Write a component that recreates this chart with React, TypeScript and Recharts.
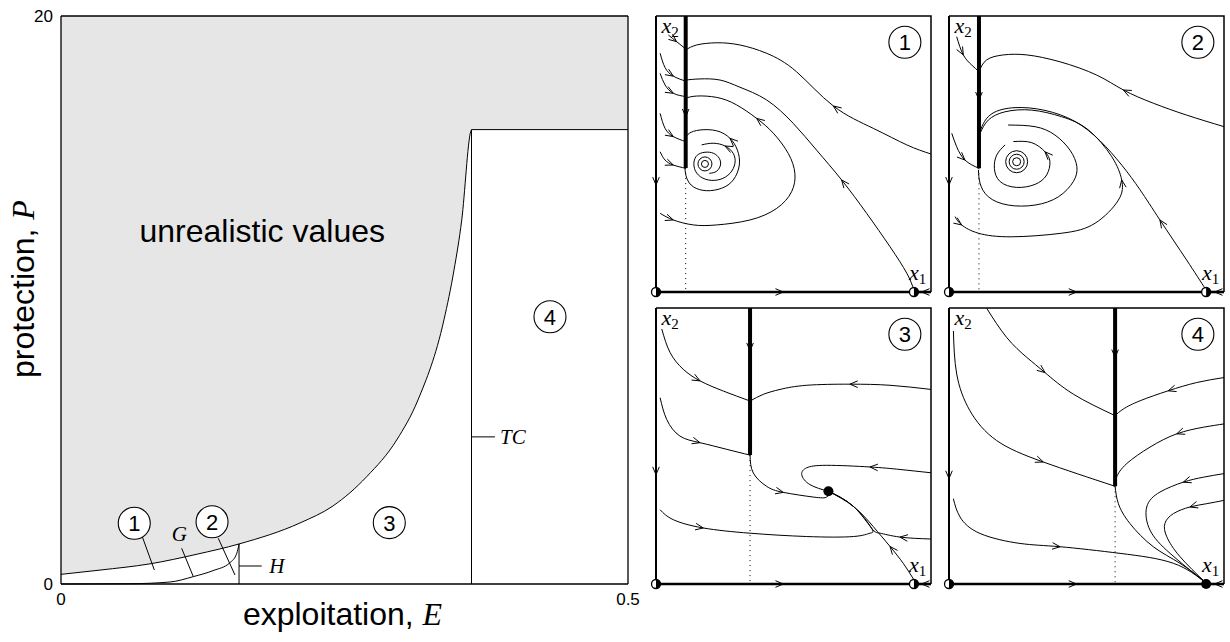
import React from "react";
import {
  Area,
  CartesianGrid,
  ComposedChart,
  Line,
  ReferenceDot,
  ReferenceLine,
  XAxis,
  YAxis,
} from "recharts";

type Pt = [number, number];
type Curve = { pts: Pt[]; arrows?: number[] };

const SANS = '"Liberation Sans", Arial, Helvetica, sans-serif';
const SERIF = '"Liberation Serif", "DejaVu Serif", serif';

// ---- left diagram: exploitation E against protection P ----
const boundaryE = [0, 0.0344, 0.0785, 0.12, 0.157, 0.2108, 0.2399, 0.2696, 0.296, 0.3148, 0.3377, 0.3466, 0.3534, 0.3613, 0.362, 0.5];
const boundaryP = [0.34, 0.49, 0.71, 1.05, 1.41, 2.15, 2.75, 3.78, 5.07, 6.48, 9.3, 11.06, 12.82, 15.93, 16, 16];
const gCurveE = [0, 0.0608, 0.0961, 0.1167, 0.134, 0.149, 0.155, 0.157];
const gCurveP = [0, 0.01, 0.07, 0.26, 0.47, 0.75, 1.08, 1.41];
const hopfE = 0.157;
const hopfP = 1.41;
const tcE = 0.362;
const tcP = 16;
const regionIds = ["1", "2", "3", "4"];
const regionE = [0.0646, 0.1332, 0.2895, 0.4312];
const regionP = [2.14, 2.19, 2.16, 9.41];

// ---- phase portraits, x1 horizontal / x2 vertical, both 0..100 ----
// panel 1
const p1Slide = { u: 10.8, end: 44.9, arrow: 63.5 };
const p1Top: Pt[] = [[100, 50.0], [91.2, 53.3], [79.0, 59.3], [64.5, 67.4], [51.1, 79.8], [40.2, 86.5], [30.5, 89.5], [22.1, 90.3], [14.8, 89.5], [10.8, 87.7]];
const p1Mid: Pt[] = [[93.8, 0.7], [91.2, 6.8], [85.1, 16.4], [76.6, 28.5], [67.5, 40.6], [58.4, 51.4], [49.9, 61.1], [40.2, 69.6], [30.5, 74.2], [23.3, 76.8], [16.0, 77.2], [10.8, 76.8]];
const p1Outer: Pt[] = [[1.5, 28.5], [6.3, 26.1], [13.6, 24.3], [22.1, 24.3], [34.2, 26.1], [43.9, 30.3], [49.3, 36.3], [50.5, 43.0], [48.1, 50.2], [42.7, 57.5], [36.6, 62.9], [29.3, 67.8], [22.1, 70.5], [14.8, 71.0], [10.7, 70.2]];
const p1Loop: Pt[] = [[10.5, 44.8], [11.2, 41.2], [13.6, 38.1], [18.4, 36.7], [23.9, 37.6], [28.1, 40.6], [30.3, 46.0], [29.6, 51.4], [26.9, 55.7], [22.1, 58.4], [16.0, 58.7], [12.1, 57.5], [10.8, 55.7]];
const p1Spiral: Pt[] = [[19.4, 43.0], [22.1, 43.8], [23.5, 46.4], [22.6, 49.0], [20.2, 50.5], [17.0, 50.5], [14.5, 49.0], [13.8, 45.7], [15.4, 42.4], [19.0, 40.6], [23.3, 40.8], [26.9, 43.0], [28.7, 46.6], [28.1, 50.2], [25.1, 52.9], [20.8, 53.9], [16.6, 53.3]];
const p1Feed: Pt[][] = [
  [[4.5, 93.1], [7.5, 90.7], [10.8, 88.1]],
  [[1.5, 86.5], [3.3, 81.3], [6.3, 78.2], [10.8, 76.4]],
  [[1.5, 79.2], [3.3, 75.0], [6.3, 72.0], [10.8, 70.8]],
  [[1.5, 64.7], [3.3, 59.3], [6.3, 56.3], [10.8, 54.5]],
  [[1.5, 50.8], [3.3, 47.8], [6.3, 46.0], [10.8, 44.8]],
];
const p1Focus: Pt = [17.8, 46.4];

// panel 2
const p2Slide = { u: 10.9, end: 44.8, arrow: 69.6 };
const p2FeedTop: Pt[] = [[2.8, 92.5], [5.2, 85.9], [8.3, 82.2], [10.9, 79.8]];
const p2Top: Pt[] = [[100, 59.9], [86.4, 64.1], [74.3, 68.4], [63.4, 73.2], [53.7, 78.6], [40.4, 83.4], [28.3, 85.9], [19.8, 85.9], [13.7, 84.1], [10.9, 79.8]];
const p2FeedLow: Pt[] = [[1.0, 57.5], [2.8, 52.6], [5.8, 47.8], [10.9, 44.8]];
const p2FromX1: Pt[] = [[93.5, 0.7], [86.4, 11.6], [76.7, 26.1], [69.5, 37.0], [62.8, 46.0], [54.9, 54.8], [45.8, 61.8], [34.9, 65.8], [24.0, 66.8], [15.6, 64.6], [12.0, 60.0], [10.9, 57.0]];
const p2Outer: Pt[] = [[2.2, 27.3], [4.6, 24.3], [10.7, 21.3], [22.8, 20.0], [41.0, 21.3], [53.1, 24.9], [61.6, 33.3], [62.8, 40.6], [59.2, 49.0], [50.7, 58.7], [41.0, 63.5], [30.1, 65.9], [20.4, 65.3], [14.3, 62.3], [11.3, 57.5]];
const p2Loop: Pt[] = [[10.7, 44.2], [11.3, 39.4], [14.3, 34.5], [21.5, 31.5], [31.3, 31.5], [39.8, 34.5], [45.2, 40.0], [46.5, 45.4], [44.0, 51.4], [38.5, 56.9], [31.3, 59.9], [21.5, 60.5]];
const p2Spiral: Pt[] = [[20.4, 53.3], [17.4, 49.7], [16.5, 44.8], [18.6, 40.0], [24.6, 37.9], [31.3, 39.0], [35.5, 42.4], [36.7, 47.2], [34.9, 50.8], [30.1, 54.1], [23.4, 54.5]];
const p2Focus: Pt = [24.6, 47.2];

// panel 3
const p3Slide = { u: 34.2, end: 46.7, arrow: 84.5 };
const p3A: Pt[] = [[2.1, 92.4], [5.1, 83.9], [9.9, 77.8], [16.0, 73.6], [24.5, 69.9], [34.2, 66.3]];
const p3B: Pt[] = [[100, 70.5], [85.1, 72.0], [70.5, 72.4], [54.8, 72.0], [45.1, 70.5], [39.0, 68.7], [34.2, 66.3]];
const p3C: Pt[] = [[1.5, 67.5], [3.9, 59.6], [8.7, 53.6], [16.0, 51.2], [25.7, 48.8], [34.2, 46.7]];
const p3D: Pt[] = [[34.2, 46.7], [35.4, 40.2], [40.2, 35.4], [46.3, 33.2], [57.2, 31.5], [62.1, 31.5], [62.7, 33.6]];
const p3E: Pt[] = [[100, 40.3], [88.7, 41.5], [77.8, 42.4], [62.1, 43.0], [54.8, 42.1], [53.0, 39.6], [56.0, 36.0], [62.7, 33.6]];
const p3F: Pt[] = [[93.8, 1.5], [89.9, 7.5], [85.1, 13.6], [79.0, 20.8], [71.8, 28.1], [62.7, 33.6]];
const p3G: Pt[] = [[100, 16.3], [88.7, 17.0], [81.5, 18.4], [78.4, 20.2], [71.8, 28.1], [62.7, 33.6]];
const p3H: Pt[] = [[1.5, 26.9], [6.3, 23.3], [17.2, 20.3], [34.2, 18.4], [54.8, 17.2], [71.8, 17.2], [77.8, 18.4], [78.4, 20.2], [71.8, 28.1], [62.7, 33.6]];
const p3Node: Pt = [62.7, 33.6];

// panel 4
const p4Slide = { u: 60.4, end: 35.4, arrow: 82.1 };
const p4A: Pt[] = [[13.7, 99.9], [21.0, 89.3], [28.3, 82.1], [34.9, 76.6], [45.2, 68.8], [60.4, 61.0]];
const p4B: Pt[] = [[100, 74.8], [90.1, 73.0], [79.7, 70.0], [69.5, 66.4], [63.4, 63.4], [60.4, 61.0]];
const p4C: Pt[] = [[1.6, 91.7], [2.8, 76.1], [7.6, 62.8], [17.3, 52.0], [34.3, 44.2], [60.4, 35.4]];
const p4D: Pt[] = [[100, 58.0], [92.5, 56.8], [82.8, 54.4], [73.1, 49.6], [64.6, 43.6], [60.9, 38.7], [60.4, 35.6]];
const p4E: Pt[] = [[60.4, 35.4], [61.6, 29.1], [65.8, 21.9], [74.3, 13.5], [84.0, 7.5], [93.5, 0.5]];
const p4F: Pt[] = [[100, 40.0], [92.5, 38.7], [85.2, 36.9], [76.7, 33.3], [71.9, 27.9], [73.1, 19.5], [80.4, 11.1], [93.5, 0.3]];
const p4G: Pt[] = [[100, 30.3], [93.7, 29.1], [87.6, 27.9], [81.6, 25.5], [78.5, 21.9], [79.2, 17.1], [84.0, 9.9], [93.5, 0.3]];
const p4H: Pt[] = [[1.6, 30.9], [4.0, 24.3], [11.3, 18.3], [25.8, 14.7], [40.4, 13.5], [62.2, 11.1], [81.6, 7.5], [93.5, 0.3]];

const boundaryRows = boundaryE.map((E, i) => ({ E, P: boundaryP[i] }));
const gRows = gCurveE.map((E, i) => ({ E, P: gCurveP[i] }));

// open chevron drawn on the chosen vertices, pointing along the flow
const arrowDot = (pts: Pt[], at: number[]) => (props: any) => {
  const { cx, cy, index } = props;
  const key = `d-${index}`;
  if (!at.includes(index) || typeof cx !== "number" || typeof cy !== "number") return <g key={key} />;
  const a = pts[Math.max(0, index - 1)];
  const b = pts[Math.min(pts.length - 1, index + 1)];
  const ang = Math.atan2(a[1] - b[1], b[0] - a[0]);
  const L = 8.5;
  const h = 0.4;
  const d = `M${cx - L * Math.cos(ang - h)},${cy - L * Math.sin(ang - h)}L${cx},${cy}L${cx - L * Math.cos(ang + h)},${cy - L * Math.sin(ang + h)}`;
  return <path key={key} d={d} fill="none" stroke="#000" strokeWidth={1} />;
};

function track(c: Curve, key: string, width = 1, curve: "natural" | "linear" = "natural", dash?: string) {
  return (
    <Line
      key={key}
      data={c.pts.map(([u, v]) => ({ u, v }))}
      dataKey="v"
      type={curve}
      stroke="#000"
      strokeWidth={width}
      strokeDasharray={dash}
      dot={c.arrows ? arrowDot(c.pts, c.arrows) : false}
      activeDot={false}
      isAnimationActive={false}
    />
  );
}

const HalfDot = ({ cx, cy }: any) => (
  <g>
    <circle cx={cx} cy={cy} r={4.5} fill="#fff" stroke="#000" strokeWidth={1.3} />
    <path d={`M${cx},${cy - 4.5}A4.5,4.5 0 0 1 ${cx},${cy + 4.5}Z`} fill="#000" />
  </g>
);

const FullDot = ({ cx, cy }: any) => <circle cx={cx} cy={cy} r={5} fill="#000" />;

const Circled = ({ cx, cy, n }: any) => (
  <g>
    <circle cx={cx} cy={cy} r={16} fill="#fff" stroke="#000" strokeWidth={1.1} />
    <text x={cx} y={cy} dy="0.36em" textAnchor="middle" fontFamily={SANS} fontSize={22} fill="#000">
      {n}
    </text>
  </g>
);

const MathText = ({ cx, cy, text, anchor = "start", size = 21 }: any) => (
  <text x={cx} y={cy} textAnchor={anchor} fontFamily={SERIF} fontStyle="italic" fontSize={size} fill="#000">
    {text}
  </text>
);

const VarLabel = ({ cx, cy, idx }: any) => (
  <text x={cx} y={cy} fontFamily={SERIF} fill="#000">
    <tspan fontStyle="italic" fontSize={22}>x</tspan>
    <tspan fontSize={15} dy={4}>{idx}</tspan>
  </text>
);

const PW = 275;
const PH = 276;
const PAD = 14;

type PanelProps = {
  left: number;
  top: number;
  id: string;
  slide: { u: number; end: number; arrow: number };
  curves: Curve[];
  focus?: Pt;
  rings?: number[];
  node?: Pt;
  x1: number;
  x1Solid?: boolean;
  leftArrow: number;
  bottomArrow: number;
};

function PhasePanel({ left, top, id, slide, curves, focus, rings = [], node, x1, x1Solid, leftArrow, bottomArrow }: PanelProps) {
  return (
    <div style={{ position: "absolute", left: left - PAD, top: top - PAD }}>
      <ComposedChart width={PW + 2 * PAD} height={PH + 2 * PAD} margin={{ top: PAD, right: PAD, bottom: PAD, left: PAD }}>
        <XAxis type="number" dataKey="u" domain={[0, 100]} hide />
        <YAxis type="number" dataKey="v" domain={[0, 100]} hide />
        {track({ pts: [[0, 100], [100, 100], [100, 0]] }, "frame", 1.5, "linear")}
        {track({ pts: [[0, 100], [0, leftArrow], [0, 0]], arrows: [1] }, "axis2", 2, "linear")}
        {track({ pts: [[0, 0], [bottomArrow, 0], [x1, 0]], arrows: [1] }, "axis1", 2.6, "linear")}
        {track({ pts: [[100, 0], [96.6, 0], [x1, 0]], arrows: [1] }, "axis1r", 2.6, "linear")}
        {track({ pts: [[slide.u, slide.end], [slide.u, 0]] }, "dotted", 1, "linear", "1 4")}
        {curves.map((c, i) => track(c, `c${i}`))}
        {track({ pts: [[slide.u, 100], [slide.u, slide.arrow], [slide.u, slide.end]], arrows: [1] }, "slide", 4, "linear")}
        {focus &&
          rings.map((r) => (
            <ReferenceDot key={`r${r}`} x={focus[0]} y={focus[1]} r={r} fill="none" stroke="#000" strokeWidth={1} />
          ))}
        <ReferenceDot x={0} y={0} shape={(p: any) => <HalfDot cx={p.cx} cy={p.cy} />} />
        <ReferenceDot
          x={x1}
          y={0}
          shape={(p: any) => (x1Solid ? <FullDot cx={p.cx} cy={p.cy} /> : <HalfDot cx={p.cx} cy={p.cy} />)}
        />
        {node && <ReferenceDot x={node[0]} y={node[1]} shape={(p: any) => <FullDot cx={p.cx} cy={p.cy} />} />}
        <ReferenceDot x={2} y={94} shape={(p: any) => <VarLabel cx={p.cx} cy={p.cy} idx="2" />} />
        <ReferenceDot x={92} y={4.5} shape={(p: any) => <VarLabel cx={p.cx} cy={p.cy} idx="1" />} />
        <ReferenceDot x={90.5} y={90.5} shape={(p: any) => <Circled cx={p.cx} cy={p.cy} n={id} />} />
      </ComposedChart>
    </div>
  );
}

const TICK = { fontSize: 17, fill: "#000", fontFamily: SANS };

const xTitle = (props: any) => {
  const vb = props.viewBox ?? { x: 61, y: 584, width: 567, height: 30 };
  return (
    <text x={vb.x + vb.width / 2 - 2} y={vb.y + 41} textAnchor="middle" fontFamily={SANS} fontSize={32} fill="#000">
      exploitation, <tspan fontFamily={SERIF} fontStyle="italic">E</tspan>
    </text>
  );
};

const yTitle = (props: any) => {
  const vb = props.viewBox ?? { x: 0, y: 16, width: 61, height: 568 };
  const x = vb.x + 34;
  const y = vb.y + vb.height / 2 - 11;
  return (
    <text x={x} y={y} transform={`rotate(-90 ${x} ${y})`} textAnchor="middle" fontFamily={SANS} fontSize={32} fill="#000">
      protection, <tspan fontFamily={SERIF} fontStyle="italic">P</tspan>
    </text>
  );
};

function RegionMap() {
  return (
    <div style={{ position: "absolute", left: 0, top: 0 }}>
      <ComposedChart width={645} height={642} data={boundaryRows} margin={{ top: 16, right: 17, bottom: 28, left: 0 }}>
        <CartesianGrid horizontal={false} vertical={false} fill="#e6e6e6" />
        <XAxis
          type="number"
          dataKey="E"
          domain={[0, 0.5]}
          ticks={[0, 0.5]}
          height={30}
          tickLine={false}
          axisLine={{ stroke: "#000", strokeWidth: 1.3 }}
          tick={TICK}
          tickMargin={3}
          label={xTitle}
        />
        <YAxis
          type="number"
          dataKey="P"
          domain={[0, 20]}
          ticks={[0, 20]}
          width={61}
          tickLine={false}
          axisLine={{ stroke: "#000", strokeWidth: 1.3 }}
          tick={TICK}
          label={yTitle}
        />
        <Area
          dataKey="P"
          type="monotone"
          stroke="#000"
          strokeWidth={1}
          fill="#fff"
          fillOpacity={1}
          dot={false}
          activeDot={false}
          isAnimationActive={false}
        />
        <Line data={gRows} dataKey="P" type="monotone" stroke="#000" strokeWidth={1} dot={false} activeDot={false} isAnimationActive={false} />
        <Line
          data={[{ E: hopfE, P: 0 }, { E: hopfE, P: hopfP }]}
          dataKey="P"
          stroke="#000"
          strokeWidth={1}
          dot={false}
          activeDot={false}
          isAnimationActive={false}
        />
        <Line
          data={[{ E: tcE, P: 0 }, { E: tcE, P: tcP }]}
          dataKey="P"
          stroke="#000"
          strokeWidth={1}
          dot={false}
          activeDot={false}
          isAnimationActive={false}
        />
        <ReferenceLine y={20} stroke="#000" strokeWidth={1.3} />
        <ReferenceLine x={0.5} stroke="#000" strokeWidth={1.3} />
        {/* leaders from labels to their regions and curves */}
        <ReferenceLine segment={[{ x: 0.0717, y: 1.665 }, { x: 0.0823, y: 0.493 }]} stroke="#000" />
        <ReferenceLine segment={[{ x: 0.1387, y: 1.609 }, { x: 0.1534, y: 0.317 }]} stroke="#000" />
        <ReferenceLine segment={[{ x: 0.1064, y: 1.257 }, { x: 0.1167, y: 0.257 }]} stroke="#000" />
        <ReferenceLine segment={[{ x: hopfE, y: 0.634 }, { x: 0.177, y: 0.634 }]} stroke="#000" />
        <ReferenceLine segment={[{ x: tcE, y: 5.18 }, { x: 0.3827, y: 5.18 }]} stroke="#000" />
        <ReferenceDot
          x={0.2857}
          y={12.04}
          shape={(p: any) => (
            <text x={p.cx} y={p.cy} textAnchor="end" fontFamily={SANS} fontSize={32} fill="#000">
              unrealistic values
            </text>
          )}
        />
        <ReferenceDot x={0.0976} y={1.5} shape={(p: any) => <MathText cx={p.cx} cy={p.cy} text="G" />} />
        <ReferenceDot x={0.1837} y={0.377} shape={(p: any) => <MathText cx={p.cx} cy={p.cy} text="H" />} />
        <ReferenceDot x={0.3872} y={4.93} shape={(p: any) => <MathText cx={p.cx} cy={p.cy} text="TC" />} />
        {regionIds.map((n, i) => (
          <ReferenceDot key={n} x={regionE[i]} y={regionP[i]} shape={(p: any) => <Circled cx={p.cx} cy={p.cy} n={n} />} />
        ))}
      </ComposedChart>
    </div>
  );
}

export default function App() {
  return (
    <div style={{ position: "absolute", left: 0, top: 0, width: 1230, height: 642, background: "#fff" }}>
      <RegionMap />
      <PhasePanel
        left={656}
        top={16}
        id="1"
        slide={p1Slide}
        curves={[
          { pts: p1Top, arrows: [3] },
          { pts: p1Mid, arrows: [4] },
          { pts: p1Outer, arrows: [1, 10] },
          { pts: p1Loop, arrows: [8] },
          { pts: p1Spiral, arrows: [14] },
          ...p1Feed.map((pts, i) => ({ pts, arrows: [i === 0 ? 1 : 2] })),
        ]}
        focus={p1Focus}
        rings={[3.5, 7]}
        x1={93.8}
        leftArrow={38.8}
        bottomArrow={46.3}
      />
      <PhasePanel
        left={949}
        top={16}
        id="2"
        slide={p2Slide}
        curves={[
          { pts: p2FeedTop, arrows: [1] },
          { pts: p2Top, arrows: [3] },
          { pts: p2FeedLow, arrows: [2] },
          { pts: p2FromX1, arrows: [2] },
          { pts: p2Outer, arrows: [1, 7] },
          { pts: p2Loop },
          { pts: p2Spiral, arrows: [8] },
        ]}
        focus={p2Focus}
        rings={[4, 7.5, 11]}
        x1={93.5}
        leftArrow={38.8}
        bottomArrow={46.4}
      />
      <PhasePanel
        left={656}
        top={308}
        id="3"
        slide={p3Slide}
        curves={[
          { pts: p3A, arrows: [3] },
          { pts: p3B, arrows: [2] },
          { pts: p3C, arrows: [3] },
          { pts: p3D, arrows: [3] },
          { pts: p3E, arrows: [2] },
          { pts: p3F, arrows: [2] },
          { pts: p3G, arrows: [1] },
          { pts: p3H, arrows: [2] },
        ]}
        node={p3Node}
        x1={93.8}
        leftArrow={39.6}
        bottomArrow={46.3}
      />
      <PhasePanel
        left={949}
        top={308}
        id="4"
        slide={p4Slide}
        curves={[
          { pts: p4A, arrows: [3] },
          { pts: p4B, arrows: [2] },
          { pts: p4C, arrows: [4] },
          { pts: p4D, arrows: [2] },
          { pts: p4E },
          { pts: p4F, arrows: [2] },
          { pts: p4G, arrows: [2] },
          { pts: p4H, arrows: [4] },
        ]}
        x1={93.5}
        x1Solid
        leftArrow={38.2}
        bottomArrow={46.4}
      />
    </div>
  );
}
